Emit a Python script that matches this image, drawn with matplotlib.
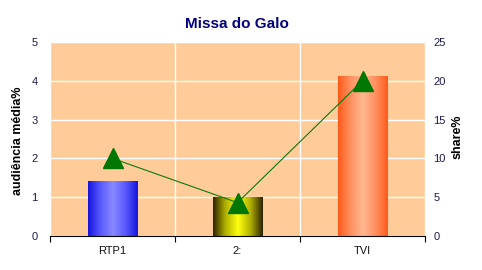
import numpy as np
import matplotlib
matplotlib.use("Agg")
import matplotlib.pyplot as plt
from matplotlib.colors import LinearSegmentedColormap

categories = ["RTP1", "2:", "TVI"]
audiencia = [1.4, 1.0, 4.1]
share = [10, 4.3, 20]

plt.rcParams['font.family'] = ['Liberation Sans', 'DejaVu Sans']

fig = plt.figure(figsize=(4.82, 2.70), dpi=100)
ax = fig.add_axes([50/482, 34/270, 375/482, 194/270])
ax.set_facecolor('#FFCC99')

x = np.arange(len(categories))
width = 0.4
grads = [
    ['#1515dd', '#5a5aff', '#8888ff', '#5a5aff', '#1515dd'],
    ['#2a2200', '#b0b000', '#ffff10', '#b0b000', '#2a2200'],
    ['#ff5a1a', '#ff9060', '#ffb890', '#ff9060', '#ff5a1a'],
]
bars = ax.bar(x, audiencia, width, color='none', zorder=2)
grad = np.linspace(0, 1, 256).reshape(1, -1)
for b, cols in zip(bars, grads):
    cmap = LinearSegmentedColormap.from_list('g', cols)
    bx, by = b.get_x(), b.get_y()
    ax.imshow(grad, cmap=cmap, aspect='auto', zorder=2,
              extent=[bx, bx + b.get_width(), by, by + b.get_height()])

ax.set_xlim(-0.5, 2.5)
ax.set_ylim(0, 5)
ax.set_yticks([0, 1, 2, 3, 4, 5])
ax.set_xticks([-0.5, 0.5, 1.5, 2.5])
ax.set_xticklabels([])
ax.set_xticks(x, minor=True)
ax.set_xticklabels(categories, minor=True)
ax.tick_params(axis='x', which='minor', length=0, pad=7, labelsize=8, colors='#111111')
ax.tick_params(axis='x', which='major', length=4, direction='out', color='black')
ax.tick_params(axis='y', length=0, pad=9, labelsize=8, labelcolor='#1a1a50')
ax.grid(True, which='major', color='white', linewidth=1, zorder=1)
ax.set_axisbelow(True)
for s in ['left', 'right', 'top']:
    ax.spines[s].set_visible(False)
ax.spines['bottom'].set_color('black')
ax.set_ylabel('audiência média%', fontsize=9, fontweight='bold')
ax.yaxis.set_label_coords((24 - 50) / 375, (236 - 141) / 194)

ax2 = ax.twinx()
ax2.plot(x, share, color='#0a7a0a', linewidth=0.8, marker='^', markersize=14,
         markerfacecolor='#007700', markeredgecolor='#007700', zorder=3)
ax2.set_ylim(0, 25)
ax2.set_yticks([0, 5, 10, 15, 20, 25])
ax2.tick_params(axis='y', length=0, pad=6, labelsize=8, labelcolor='#1a1a50')
for s in ['left', 'right', 'top', 'bottom']:
    ax2.spines[s].set_visible(False)
ax2.set_ylabel('share%', fontsize=9, fontweight='bold')
ax2.yaxis.set_label_coords((452 - 50) / 375, (236 - 137) / 194)
ax.set_xlim(-0.5, 2.5)

fig.text(237/482, 1 - 24/270, 'Missa do Galo', ha='center', va='center',
         fontsize=11, fontweight='bold', color='#000080')

fig.savefig('out.png', dpi=100)
